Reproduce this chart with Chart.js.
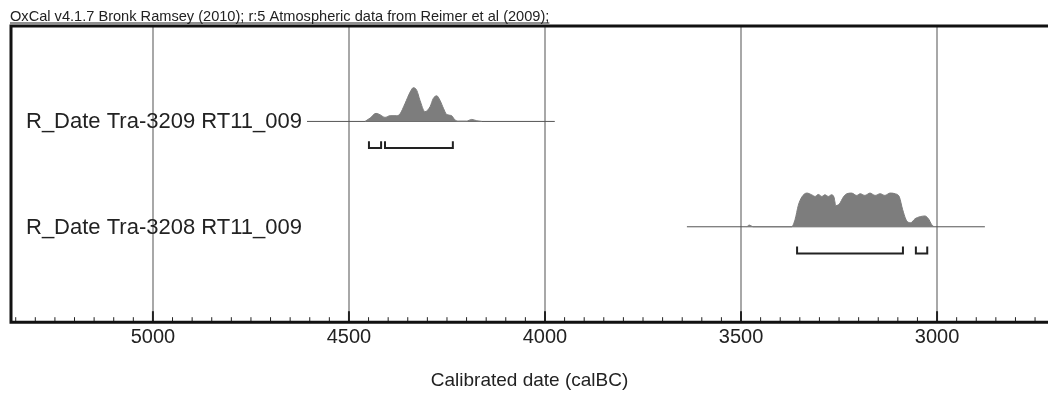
<!DOCTYPE html>
<html>
<head>
<meta charset="utf-8">
<script src="https://cdn.jsdelivr.net/npm/chart.js@4.4.1/dist/chart.umd.min.js"></script>
<style>
  html, body { margin: 0; padding: 0; background: #fff; }
</style>
</head>
<body>
<canvas id="chart" width="1048" height="394"></canvas>
<script>
const headerText = 'OxCal v4.1.7 Bronk Ramsey (2010); r:5 Atmospheric data from Reimer et al (2009);';
const axisTitle = 'Calibrated date (calBC)';
const rowLabels = ['R_Date Tra-3209 RT11_009', 'R_Date Tra-3208 RT11_009'];
const rowLevels = [2, 1];   // vertical slot of each sample
const tickYears = [3000, 3500, 4000, 4500, 5000];

// probability distributions (calBC year, relative probability)
const years3209 = [4459, 4446, 4431, 4421, 4408, 4395, 4378, 4370, 4357, 4344, 4336, 4327, 4319, 4306,
  4293, 4285, 4276, 4268, 4259, 4251, 4238, 4230, 4221, 4200, 4187, 4174, 4161];
const prob3209 = [0, .10, .24, .20, .12, .17, .17, .22, .53, .87, 1.0, .92, .63, .29,
  .44, .68, .76, .63, .39, .21, .17, .05, .01, .01, .06, .02, 0];

const years3208 = [3485, 3479, 3469, 3371, 3362, 3354, 3345, 3332, 3320, 3311, 3303, 3294, 3286, 3277,
  3269, 3263, 3258, 3249, 3239, 3230, 3218, 3205, 3196, 3184, 3171, 3158, 3145, 3133, 3120, 3107,
  3096, 3088, 3077, 3067, 3056, 3043, 3031, 3022, 3014, 3008];
const prob3208 = [0, .05, 0, 0, .22, .63, .88, 1.0, .95, .90, .96, .90, .95, .90,
  .95, .88, .63, .68, .88, .98, 1.0, .93, .98, .93, 1.0, .93, .98, .93, 1.0, .98,
  .88, .52, .17, .12, .24, .30, .32, .24, .07, 0];

// extent of the horizontal line under each sample
const span3209 = [4607, 3975];
const span3208 = [3638, 2878];

// 95.4% ranges
const ranges3209 = [[4449, 4418], [4408, 4235]];
const ranges3208 = [[3357, 3087], [3054, 3025]];

const FONT = '"Liberation Sans", Arial, sans-serif';
const PEAK = 0.32;        // drawn height of a distribution peak
const BR_Y = -0.253;      // bracket offset under the baseline
const BR_H = 0.066;       // bracket end height

function distPoints(years, probs, level) {
  return years.map((y, i) => ({ x: y, y: level + probs[i] * PEAK }));
}
function spanPoints(span, level) {
  return [{ x: span[0], y: level }, { x: span[1], y: level }];
}
function bracketPoints(ranges, level) {
  const pts = [];
  const b = level + BR_Y;
  ranges.forEach(r => {
    pts.push({ x: r[0], y: b + BR_H }, { x: r[0], y: b }, { x: r[1], y: b }, { x: r[1], y: b + BR_H });
    pts.push({ x: r[1], y: null });
  });
  return pts;
}

const distStyle = (level) => ({
  type: 'line', fill: { value: level }, backgroundColor: '#7d7d7d', borderColor: '#7d7d7d',
  borderWidth: 1, pointRadius: 0, cubicInterpolationMode: 'monotone'
});
const spanStyle = { type: 'line', borderColor: '#555', borderWidth: 1, pointRadius: 0, fill: false };
const bracketStyle = { type: 'line', borderColor: '#222', borderWidth: 2, pointRadius: 0, fill: false, spanGaps: false };

const frame = {
  id: 'frame',
  afterDraw(chart) {
    const { ctx, chartArea: a, scales } = chart;
    const xs = scales.x, ys = scales.y;
    ctx.save();
    // minor and major ticks pointing inwards
    ctx.strokeStyle = '#222';
    for (let v = Math.ceil(xs.min / 50) * 50; v <= xs.max; v += 50) {
      const px = xs.getPixelForValue(v);
      const major = v % 500 === 0;
      ctx.lineWidth = major ? 2 : 1;
      ctx.beginPath();
      ctx.moveTo(px, a.bottom);
      ctx.lineTo(px, a.bottom - (major ? 11 : 5));
      ctx.stroke();
    }
    // frame: left, top, bottom
    ctx.lineWidth = 3;
    ctx.strokeStyle = '#111';
    ctx.beginPath();
    ctx.moveTo(a.right + 5, a.top);
    ctx.lineTo(a.left, a.top);
    ctx.lineTo(a.left, a.bottom);
    ctx.lineTo(a.right + 5, a.bottom);
    ctx.stroke();
    // sample labels
    ctx.fillStyle = '#222';
    ctx.font = '22px ' + FONT;
    ctx.textBaseline = 'middle';
    ctx.textAlign = 'left';
    rowLabels.forEach((t, i) => ctx.fillText(t, a.left + 15, ys.getPixelForValue(rowLevels[i]) + 1));
    // header
    ctx.font = '14.6px ' + FONT;
    ctx.textBaseline = 'alphabetic';
    ctx.fillText(headerText, 10, 21);
    const w = ctx.measureText(headerText).width;
    ctx.fillRect(10, 22.5, w, 1);
    ctx.restore();
  }
};

new Chart(document.getElementById('chart').getContext('2d'), {
  type: 'line',
  data: {
    datasets: [
      { data: distPoints(years3209, prob3209, rowLevels[0]), ...distStyle(rowLevels[0]) },
      { data: spanPoints(span3209, rowLevels[0]), ...spanStyle },
      { data: bracketPoints(ranges3209, rowLevels[0]), ...bracketStyle },
      { data: distPoints(years3208, prob3208, rowLevels[1]), ...distStyle(rowLevels[1]) },
      { data: spanPoints(span3208, rowLevels[1]), ...spanStyle },
      { data: bracketPoints(ranges3208, rowLevels[1]), ...bracketStyle }
    ]
  },
  options: {
    responsive: false,
    animation: false,
    layout: { padding: { left: 11, right: 0, top: 26, bottom: 0 } },
    plugins: { legend: { display: false }, tooltip: { enabled: false } },
    scales: {
      x: {
        type: 'linear',
        reverse: true,
        min: 2717,
        max: 5362,
        afterBuildTicks: (scale) => { scale.ticks = tickYears.map(v => ({ value: v })); },
        border: { display: false },
        grid: { drawTicks: false, lineWidth: 2, color: '#a8a8a8' },
        ticks: {
          autoSkip: false,
          maxRotation: 0,
          padding: 3,
          color: '#222',
          font: { family: FONT, size: 20 },
          callback: (v) => String(v)
        },
        title: {
          display: true,
          text: axisTitle,
          color: '#222',
          font: { family: FONT, size: 19 },
          padding: { top: 17, bottom: 2 }
        }
      },
      y: {
        type: 'linear',
        display: false,
        min: 0.094,
        max: 2.906
      }
    }
  },
  plugins: [frame]
});
</script>
</body>
</html>
